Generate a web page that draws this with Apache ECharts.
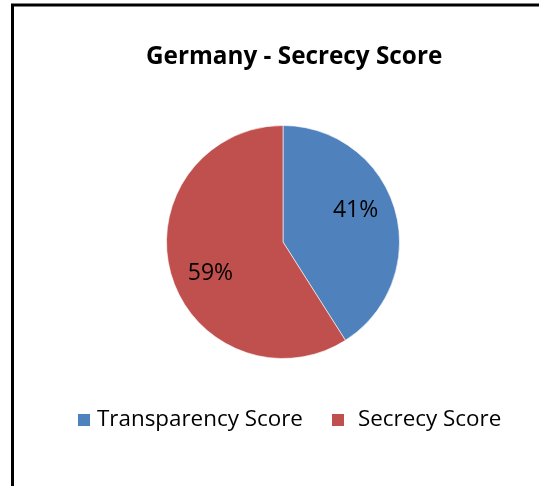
<!DOCTYPE html>
<html>
<head>
<meta charset="utf-8">
<script src="https://cdn.jsdelivr.net/npm/echarts@6/dist/echarts.min.js"></script>
<style>
  html, body { margin: 0; padding: 0; background: #fff; }
  #chart { width: 539px; height: 486px; }
</style>
</head>
<body>
<div id="chart"></div>
<script>
const categories = ['Transparency Score', 'Secrecy Score'];
const scores = [41, 59];
const colors = ['#4F81BD', '#C0504D'];

const pieData = categories.map((name, i) => ({ name: name, value: scores[i] }));

const chart = echarts.init(document.getElementById('chart'));

const option = {
  animation: false,
  backgroundColor: '#fff',
  color: colors,
  title: {
    text: 'Germany - Secrecy Score',
    left: 146,
    top: 45,
    padding: 0,
    textStyle: {
      fontFamily: 'Open Sans',
      fontSize: 24.3,
      fontWeight: 'bold',
      color: '#000'
    }
  },
  legend: [
    {
      data: [categories[0]],
      left: 76,
      top: 409,
      padding: 0,
      itemWidth: 14,
      itemHeight: 14,
      itemGap: 7,
      icon: 'rect',
      textStyle: { fontFamily: 'Open Sans', fontSize: 22.4, color: '#000', padding: [0, 0, 0, 1] }
    },
    {
      data: [categories[1]],
      left: 330,
      top: 409,
      padding: 0,
      itemWidth: 14,
      itemHeight: 14,
      icon: 'rect',
      textStyle: { fontFamily: 'Open Sans', fontSize: 22.4, color: '#000', padding: [0, 0, 0, 8] }
    }
  ],
  graphic: [
    {
      type: 'rect',
      shape: { x: 12.5, y: 5, width: 700, height: 700 },
      style: { fill: 'none', stroke: '#000', lineWidth: 3 },
      silent: true
    }
  ],
  series: [
    {
      type: 'pie',
      center: [283, 242],
      radius: [0, 116.5],
      startAngle: 90,
      clockwise: true,
      label: { show: false },
      labelLine: { show: false },
      itemStyle: { borderColor: '#fff', borderWidth: 0.6 },
      data: pieData
    },
    {
      // transparent copy only used to place the percent labels like the original
      type: 'pie',
      center: [283, 242],
      radius: [0, 152],
      startAngle: 97,
      clockwise: true,
      silent: true,
      z: 3,
      itemStyle: { color: 'rgba(0,0,0,0)' },
      label: {
        show: true,
        position: 'inside',
        formatter: '{c}%',
        fontFamily: 'Open Sans',
        fontSize: 23,
        color: '#000'
      },
      labelLine: { show: false },
      data: pieData
    }
  ]
};

chart.setOption(option);
</script>
</body>
</html>
